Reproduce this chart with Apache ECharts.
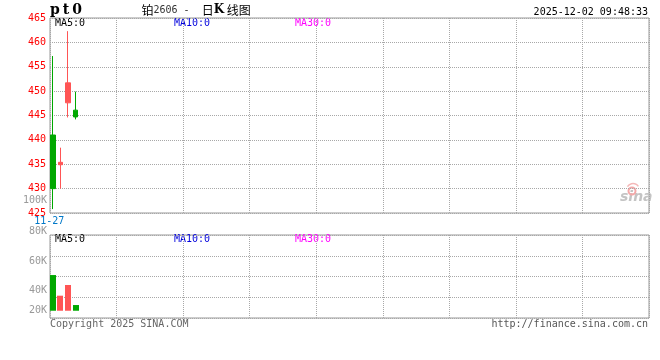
<!DOCTYPE html>
<html><head><meta charset="utf-8">
<script src="https://cdn.jsdelivr.net/npm/echarts@6/dist/echarts.min.js"></script>
<style>html,body{margin:0;padding:0;background:#fff}#c{width:660px;height:360px}</style>
</head><body><div id="c"></div>
<script>
// ---- data ----
const dates = ['11-27', '11-28', '12-01', '12-02'];
const opens  = [441.0, 434.9, 447.6, 446.1];
const closes = [430.0, 435.4, 451.7, 444.7];
const lows   = [425.8, 430.0, 444.6, 444.2];
const highs  = [457.2, 438.4, 462.3, 449.9];
const volumes = [54400, 34500, 44800, 25500];
const priceTicks = [425, 430, 435, 440, 445, 450, 455, 460, 465];
const volTickLabels = ['100K', '80K', '60K', '40K', '20K'];
const slotCount = 79;
const volBase = 20000;

const mono = '"DejaVu Sans Mono", monospace';
const UP = '#ff5555', DOWN = '#00a800';

const cats = [];
for (let i = 0; i < slotCount; i++) cats.push(i < dates.length ? dates[i] : '');
const candleData = dates.map((d, i) => [opens[i], closes[i], lows[i], highs[i]]);
const volData = volumes.map((v, i) => [i, v, closes[i] >= opens[i] ? 1 : 0]);

const dotted = { show: true, lineStyle: { color: '#a8a8a8', type: [1, 1], width: 1 } };
const hiddenAxis = { axisLine: { show: false }, axisTick: { show: false }, axisLabel: { show: false }, splitLine: { show: false } };

const chart = echarts.init(document.getElementById('c'), null, { renderer: 'canvas' });

// volume label pixel rows (layout, not data)
const volLabelY = [200, 231, 261, 290, 310];

const graphics = [
  { type: 'text', x: 49.5, y: 10, style: {
      text: '{c|p}{c|t}{c|0}', verticalAlign: 'middle',
      rich: { c: { width: 11, align: 'center', font: 'bold 14px "DejaVu Serif", serif', fill: '#000' } } } },
  { type: 'text', x: 141.5, y: 10, style: {
      text: '{c|铂}{n|2606 -  }{c|日}{k|K}{c| 线图}', verticalAlign: 'middle',
      rich: {
        c: { font: '12px "Noto Sans CJK SC", sans-serif', fill: '#000' },
        n: { font: '10px "DejaVu Sans Mono", monospace', fill: '#333' },
        k: { font: 'bold 12px "DejaVu Serif", serif', fill: '#000' }
      } } },
  { type: 'text', x: 648, y: 12, style: { text: '2025-12-02 09:48:33', font: '10px ' + mono, fill: '#000', align: 'right', verticalAlign: 'middle' } },
  { type: 'text', x: 55, y: 23, style: { text: 'MA5:0', font: '10px ' + mono, fill: '#000', verticalAlign: 'middle' } },
  { type: 'text', x: 174, y: 23, style: { text: 'MA10:0', font: '10px ' + mono, fill: '#0000dd', verticalAlign: 'middle' } },
  { type: 'text', x: 295, y: 23, style: { text: 'MA30:0', font: '10px ' + mono, fill: '#ff00ff', verticalAlign: 'middle' } },
  { type: 'text', x: 55, y: 239, style: { text: 'MA5:0', font: '10px ' + mono, fill: '#000', verticalAlign: 'middle' } },
  { type: 'text', x: 174, y: 239, style: { text: 'MA10:0', font: '10px ' + mono, fill: '#0000dd', verticalAlign: 'middle' } },
  { type: 'text', x: 295, y: 239, style: { text: 'MA30:0', font: '10px ' + mono, fill: '#ff00ff', verticalAlign: 'middle' } },
  { type: 'text', x: 50, y: 324, style: { text: 'Copyright 2025 SINA.COM', font: '10px ' + mono, fill: '#666', verticalAlign: 'middle' } },
  { type: 'text', x: 648, y: 324, style: { text: 'http://finance.sina.com.cn', font: '10px ' + mono, fill: '#555', align: 'right', verticalAlign: 'middle' } },
  { type: 'text', x: 620, y: 204, style: { text: 'sina', font: 'italic bold 14px "DejaVu Sans", sans-serif', fill: '#c4c4c4', verticalAlign: 'bottom' } },
  { type: 'circle', shape: { cx: 632, cy: 191, r: 3.5 }, style: { fill: 'none', stroke: '#f4a8a8', lineWidth: 2 } },
  { type: 'arc', shape: { cx: 633, cy: 190, r: 6.5, startAngle: -2.6, endAngle: -0.6 }, style: { fill: 'none', stroke: '#f4b8b8', lineWidth: 1.5 } }
];
volTickLabels.forEach((t, i) => {
  graphics.push({ type: 'text', x: 47, y: volLabelY[i], style: { text: t, font: '10px ' + mono, fill: '#999', align: 'right', verticalAlign: 'middle' } });
});

chart.setOption({
  animation: false,
  backgroundColor: '#fff',
  grid: [
    { left: 50, top: 18, width: 599, height: 195, show: true, borderColor: '#999', borderWidth: 1, backgroundColor: 'transparent' },
    { left: 49, top: 18, width: 600, height: 195 },
    { left: 50, top: 235, width: 599, height: 83, show: true, borderColor: '#999', borderWidth: 1, backgroundColor: 'transparent' },
    { left: 49, top: 235, width: 600, height: 83 }
  ],
  xAxis: [
    Object.assign({}, hiddenAxis, { type: 'value', gridIndex: 0, min: 0, max: 9, interval: 1, splitLine: dotted }),
    { type: 'category', gridIndex: 1, data: cats, boundaryGap: true, axisLine: { show: false }, axisTick: { show: false }, splitLine: { show: false },
      axisLabel: { show: true, interval: function (i) { return i === 0; }, margin: 3, color: '#0078c8', fontFamily: 'DejaVu Sans Mono', fontSize: 10, padding: [0, 7, 0, 0] } },
    Object.assign({}, hiddenAxis, { type: 'value', gridIndex: 2, min: 0, max: 9, interval: 1, splitLine: dotted }),
    Object.assign({}, hiddenAxis, { type: 'category', gridIndex: 3, data: cats, boundaryGap: true })
  ],
  yAxis: [
    { type: 'value', gridIndex: 0, min: priceTicks[0], max: priceTicks[priceTicks.length - 1], interval: 5,
      axisLine: { show: false }, axisTick: { show: false }, splitLine: dotted,
      axisLabel: { color: '#ff0000', fontFamily: 'DejaVu Sans Mono', fontSize: 10, margin: 4, padding: [0, 0, 3, 0] } },
    Object.assign({}, hiddenAxis, { type: 'value', gridIndex: 1, min: priceTicks[0], max: priceTicks[priceTicks.length - 1] }),
    Object.assign({}, hiddenAxis, { type: 'value', gridIndex: 2, min: 13000, max: 93000, interval: 20000, splitLine: dotted }),
    Object.assign({}, hiddenAxis, { type: 'value', gridIndex: 3, min: 13000, max: 93000 })
  ],
  series: [
    { type: 'candlestick', xAxisIndex: 1, yAxisIndex: 1, data: candleData, barWidth: 5,
      itemStyle: { color: UP, color0: DOWN, borderColor: UP, borderColor0: DOWN, borderWidth: 1 } },
    { type: 'custom', xAxisIndex: 3, yAxisIndex: 3, data: volData,
      renderItem: function (params, api) {
        const top = api.coord([api.value(0), api.value(1)]);
        const base = api.coord([api.value(0), volBase]);
        const w = 6;
        return { type: 'rect', shape: { x: Math.round(top[0] - w / 2), y: top[1], width: w, height: base[1] - top[1] },
          style: { fill: api.value(2) ? UP : DOWN } };
      } }
  ],
  graphic: graphics
});
</script></body></html>
